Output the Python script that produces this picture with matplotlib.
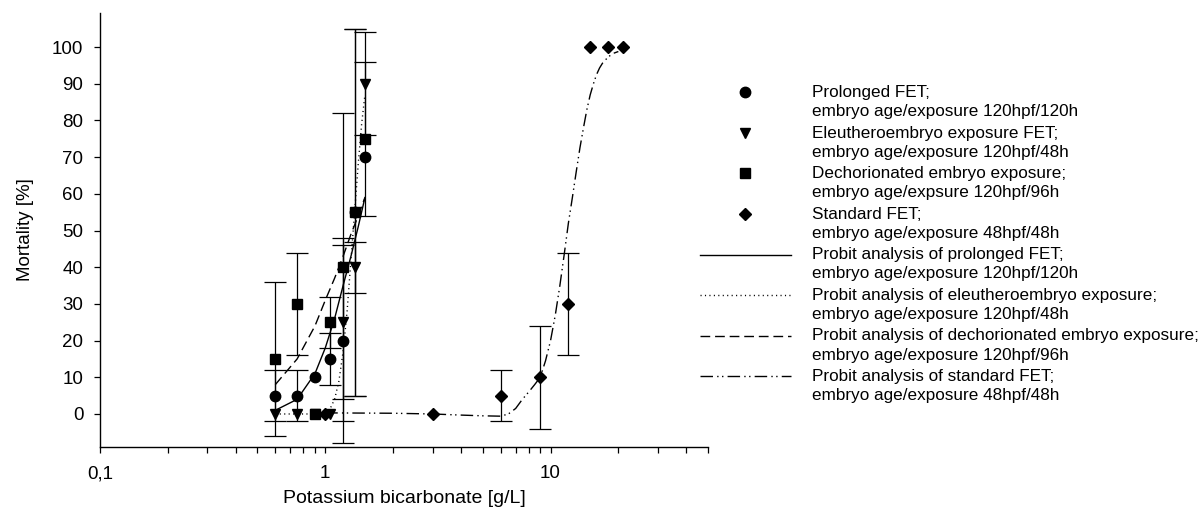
import numpy as np
import matplotlib
matplotlib.use('Agg')
import matplotlib.pyplot as plt
from matplotlib.lines import Line2D
from matplotlib.legend_handler import HandlerLine2D
from matplotlib.ticker import FixedLocator, FixedFormatter, NullFormatter

plt.rcParams['font.family'] = ['Liberation Sans', 'DejaVu Sans']

# measured mortality (mean and SD) per test design
conc_fet = [0.6, 0.75, 0.9, 1.05, 1.2, 1.35, 1.5]
mort_prolonged = [5, 5, 10, 15, 20, 55, 70]
sd_prolonged = [7, 7, 0, 7, 28, 50, 0]
mort_eleuthero = [0, 0, 0, 0, 25, 40, 90]
sd_eleuthero = [0, 0, 0, 0, 21, 7, 14]
mort_dechor = [15, 30, 0, 25, 40, 55, 75]
sd_dechor = [21, 14, 0, 7, 42, 50, 21]

conc_standard = [1, 3, 6, 9, 12, 15, 18, 21]
mort_standard = [0, 0, 5, 10, 30, 100, 100, 100]
sd_standard = [0, 0, 7, 14, 14, 0, 0, 0]

# probit fit curves
fit_x_prolonged = [0.6, 0.75, 0.9, 1.0, 1.1, 1.2, 1.3, 1.4, 1.5]
fit_y_prolonged = [1, 4, 11, 18, 26, 35, 43, 51, 59]
fit_x_eleuthero = [0.6, 0.75, 0.9, 1.0, 1.05, 1.1, 1.15, 1.2, 1.25, 1.3, 1.35, 1.4, 1.45, 1.5]
fit_y_eleuthero = [0, 0, 0, 0.4, 1.4, 4, 9, 17, 28, 42, 55, 68, 79, 87]
fit_x_dechor = [0.6, 0.75, 0.9, 1.0, 1.1, 1.2, 1.3, 1.4, 1.5]
fit_y_dechor = [8, 15, 24, 31, 37, 43, 49, 54, 59]
fit_x_standard = [1, 2, 3, 4, 5, 6, 6.5, 7, 7.5, 8, 8.5, 9, 9.5, 10, 10.5, 11, 11.5, 12, 12.5,
                  13, 13.5, 14, 14.5, 15, 15.5, 16, 16.5, 17, 18, 19, 20]
fit_y_standard = [0.3, 0.2, 0, -0.3, -0.5, -0.6, 0, 1.5, 4, 6, 8, 10, 14.5, 20, 27, 35, 43.5, 52, 59,
                  66, 72.5, 78, 83, 87, 90, 92.5, 94.3, 95.6, 97.3, 98.3, 98.8]

labels = [
    'Prolonged FET;\nembryo age/exposure 120hpf/120h',
    'Eleutheroembryo exposure FET;\nembryo age/exposure 120hpf/48h',
    'Dechorionated embryo exposure;\nembryo age/expsure 120hpf/96h',
    'Standard FET;\nembryo age/exposure 48hpf/48h',
    'Probit analysis of prolonged FET;\nembryo age/exposure 120hpf/120h',
    'Probit analysis of eleutheroembryo exposure;\nembryo age/exposure 120hpf/48h',
    'Probit analysis of dechorionated embryo exposure;\nembryo age/exposure 120hpf/96h',
    'Probit analysis of standard FET;\nembryo age/exposure 48hpf/48h',
]

LS_SOLID = '-'
LS_DOT = (0, (0.8, 2.4))
LS_DASH = (0, (7, 3.5))
LS_DASHDOTDOT = (0, (9, 3, 1, 2.5, 1, 3))


class FirstLineHandler(HandlerLine2D):
    """Legend handle lifted to sit beside the first line of a two-line label."""

    def __init__(self, shift=7.0, **kw):
        super().__init__(**kw)
        self.shift = shift

    def create_artists(self, legend, orig_handle, xdescent, ydescent,
                       width, height, fontsize, trans):
        artists = super().create_artists(legend, orig_handle, xdescent, ydescent,
                                         width, height, fontsize, trans)
        for a in artists:
            a.set_ydata(np.asarray(a.get_ydata(), float) + self.shift)
        return artists


def draw_series(ax, x, y, sd, marker, ms):
    x = np.asarray(x, float)
    y = np.asarray(y, float)
    sd = np.asarray(sd, float)
    has = sd > 0
    ax.errorbar(x[has], y[has], yerr=sd[has], fmt='none', ecolor='black',
                elinewidth=0.9, capsize=8, capthick=0.9, zorder=2)
    ax.plot(x, y, linestyle='none', marker=marker, color='black',
            markersize=ms, zorder=4)


def main():
    fig = plt.figure(figsize=(12, 5.27), dpi=100)
    ax = fig.add_axes([100 / 1200, 1 - 447 / 527, 608 / 1200, 434 / 527])

    ax.plot(fit_x_prolonged, fit_y_prolonged, color='black', lw=1.0, ls=LS_SOLID, zorder=3)
    ax.plot(fit_x_eleuthero, fit_y_eleuthero, color='black', lw=1.0, ls=LS_DOT, zorder=3)
    ax.plot(fit_x_dechor, fit_y_dechor, color='black', lw=1.0, ls=LS_DASH, zorder=3)
    ax.plot(fit_x_standard, fit_y_standard, color='black', lw=1.0, ls=LS_DASHDOTDOT, zorder=3)

    draw_series(ax, conc_fet, mort_dechor, sd_dechor, 's', 6.5)
    draw_series(ax, conc_fet, mort_eleuthero, sd_eleuthero, 'v', 7.5)
    draw_series(ax, conc_fet, mort_prolonged, sd_prolonged, 'o', 7.5)
    draw_series(ax, conc_standard, mort_standard, sd_standard, 'D', 6.5)

    ax.set_xscale('log')
    ax.set_xlim(0.1, 50)
    ax.set_ylim(-9, 109.3)
    ax.xaxis.set_major_locator(FixedLocator([0.1, 1, 10]))
    ax.xaxis.set_major_formatter(FixedFormatter(['0,1', '1', '10']))
    ax.xaxis.set_minor_formatter(NullFormatter())
    ax.set_yticks(range(0, 101, 10))

    for side in ('top', 'right'):
        ax.spines[side].set_visible(False)
    for side in ('left', 'bottom'):
        ax.spines[side].set_linewidth(1.0)
    ax.tick_params(which='both', direction='out', length=4, width=0.9, labelsize=13.5)
    ax.tick_params(axis='x', which='major', pad=9)
    ax.tick_params(axis='y', pad=8)

    ax.set_xlabel('Potassium bicarbonate [g/L]', fontsize=14, labelpad=6)
    ax.set_ylabel('Mortality [%]', fontsize=13.5, labelpad=13)

    handles = [
        Line2D([], [], ls='none', marker='o', color='black', markersize=7.5),
        Line2D([], [], ls='none', marker='v', color='black', markersize=7.5),
        Line2D([], [], ls='none', marker='s', color='black', markersize=6.5),
        Line2D([], [], ls='none', marker='D', color='black', markersize=6.5),
        Line2D([], [], ls=LS_SOLID, color='black', lw=1.0),
        Line2D([], [], ls=LS_DOT, color='black', lw=1.0),
        Line2D([], [], ls=LS_DASH, color='black', lw=1.0),
        Line2D([], [], ls=LS_DASHDOTDOT, color='black', lw=1.0),
    ]
    leg = fig.legend(handles, labels, loc='upper left', bbox_to_anchor=(700 / 1200, 1 - 85 / 527),
                     frameon=False, fontsize=12.3, handlelength=5.3, handletextpad=1.25,
                     labelspacing=0.38, borderpad=0, borderaxespad=0,
                     handler_map={Line2D: FirstLineHandler(shift=7.0)})
    for t in leg.get_texts():
        t.set_linespacing(1.34)

    fig.savefig('out.png', dpi=100)


if __name__ == '__main__':
    main()
